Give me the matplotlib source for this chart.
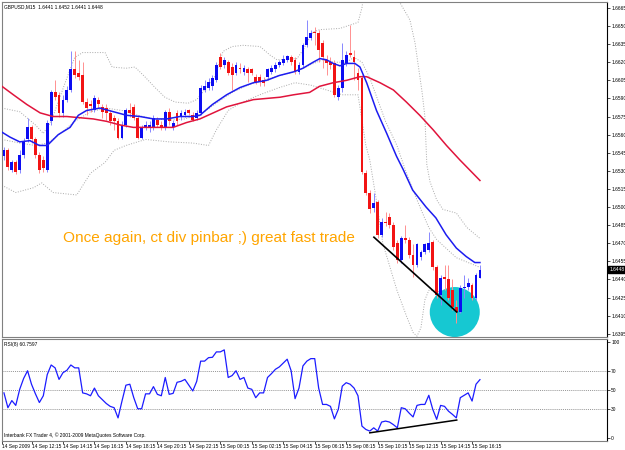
import numpy as np
import matplotlib.pyplot as plt
from matplotlib.transforms import blended_transform_factory

plt.rcParams['font.family'] = ['Liberation Sans', 'DejaVu Sans']

# GBPUSD M15 candles, 14 Sep 2009 10:30 .. 15 Sep 2009 16:45
opens = [
    1.6542, 1.6547, 1.6531, 1.6537, 1.6531, 1.6543, 1.6556, 1.6566, 1.6556, 1.6543,
    1.6539, 1.6531, 1.6571, 1.6595, 1.6593, 1.6578, 1.6589, 1.6597, 1.6614, 1.6611,
    1.6609, 1.6587, 1.6585, 1.6580, 1.6589, 1.6583, 1.6582, 1.6578, 1.6574, 1.6571,
    1.6557, 1.6568, 1.6580, 1.6583, 1.6574, 1.6557, 1.6566, 1.6566, 1.6566, 1.6572,
    1.6568, 1.6566, 1.6579, 1.6566, 1.6578, 1.6575, 1.6576, 1.6580, 1.6576, 1.6574,
    1.6578, 1.6597, 1.6599, 1.6600, 1.6605, 1.6624, 1.6618, 1.6620, 1.6616, 1.6611,
    1.6615, 1.6612, 1.6614, 1.6614, 1.6608, 1.6608, 1.6605, 1.6608, 1.6612, 1.6614,
    1.6618, 1.6619, 1.6622, 1.6624, 1.6622, 1.6612, 1.6618, 1.6634, 1.6640, 1.6645,
    1.6644, 1.6636, 1.6622, 1.6620, 1.6619, 1.6591, 1.6599, 1.6619, 1.6628, 1.6624,
    1.6611, 1.6607, 1.6528, 1.6512, 1.6499, 1.6504, 1.6477, 1.6488, 1.6492, 1.6485,
    1.6470, 1.6456, 1.6474, 1.6473, 1.6460, 1.6452, 1.6459, 1.6463, 1.6464, 1.6471,
    1.6450, 1.6427, 1.6442, 1.6440, 1.6431, 1.6417, 1.6413, 1.6433, 1.6434, 1.6435,
    1.6425, 1.6441]
highs = [
    1.6550, 1.6549, 1.6539, 1.6539, 1.6547, 1.6557, 1.6574, 1.6568, 1.6558, 1.6546,
    1.6542, 1.6572, 1.6597, 1.6605, 1.6595, 1.6593, 1.6600, 1.6629, 1.6629, 1.6622,
    1.6620, 1.6590, 1.6589, 1.6593, 1.6591, 1.6585, 1.6585, 1.6580, 1.6576, 1.6574,
    1.6571, 1.6582, 1.6586, 1.6585, 1.6576, 1.6568, 1.6571, 1.6571, 1.6576, 1.6575,
    1.6571, 1.6580, 1.6582, 1.6572, 1.6580, 1.6580, 1.6581, 1.6581, 1.6579, 1.6580,
    1.6601, 1.6605, 1.6607, 1.6609, 1.6620, 1.6628, 1.6624, 1.6622, 1.6619, 1.6620,
    1.6619, 1.6618, 1.6616, 1.6615, 1.6610, 1.6610, 1.6608, 1.6615, 1.6618, 1.6620,
    1.6622, 1.6626, 1.6626, 1.6626, 1.6624, 1.6620, 1.6636, 1.6655, 1.6647, 1.6649,
    1.6647, 1.6638, 1.6626, 1.6624, 1.6622, 1.6601, 1.6636, 1.6629, 1.6651, 1.6630,
    1.6615, 1.6609, 1.6531, 1.6514, 1.6512, 1.6506, 1.6491, 1.6496, 1.6495, 1.6488,
    1.6473, 1.6476, 1.6485, 1.6475, 1.6469, 1.6470, 1.6464, 1.6470, 1.6479, 1.6473,
    1.6452, 1.6444, 1.6452, 1.6452, 1.6440, 1.6423, 1.6435, 1.6444, 1.6441, 1.6437,
    1.6445, 1.6452]
lows = [
    1.6539, 1.6531, 1.6529, 1.6527, 1.6528, 1.6541, 1.6554, 1.6553, 1.6541, 1.6528,
    1.6529, 1.6529, 1.6568, 1.6589, 1.6575, 1.6575, 1.6587, 1.6595, 1.6607, 1.6605,
    1.6585, 1.6576, 1.6579, 1.6579, 1.6582, 1.6574, 1.6572, 1.6568, 1.6564, 1.6556,
    1.6556, 1.6566, 1.6575, 1.6572, 1.6556, 1.6556, 1.6564, 1.6562, 1.6564, 1.6566,
    1.6564, 1.6564, 1.6568, 1.6564, 1.6568, 1.6572, 1.6575, 1.6576, 1.6571, 1.6572,
    1.6576, 1.6595, 1.6597, 1.6597, 1.6604, 1.6614, 1.6615, 1.6609, 1.6597, 1.6609,
    1.6611, 1.6609, 1.6604, 1.6609, 1.6602, 1.6600, 1.6600, 1.6605, 1.6610, 1.6612,
    1.6616, 1.6618, 1.6620, 1.6618, 1.6610, 1.6610, 1.6616, 1.6633, 1.6638, 1.6634,
    1.6620, 1.6615, 1.6609, 1.6614, 1.6591, 1.6589, 1.6595, 1.6617, 1.6624, 1.6605,
    1.6597, 1.6527, 1.6510, 1.6495, 1.6496, 1.6474, 1.6475, 1.6484, 1.6483, 1.6464,
    1.6454, 1.6454, 1.6470, 1.6458, 1.6442, 1.6450, 1.6456, 1.6461, 1.6463, 1.6448,
    1.6425, 1.6419, 1.6431, 1.6423, 1.6415, 1.6404, 1.6412, 1.6425, 1.6431, 1.6423,
    1.6423, 1.6441]
closes = [
    1.6547, 1.6533, 1.6537, 1.6529, 1.6543, 1.6554, 1.6566, 1.6556, 1.6543, 1.6531,
    1.6532, 1.6570, 1.6595, 1.6591, 1.6578, 1.6589, 1.6597, 1.6614, 1.6609, 1.6608,
    1.6587, 1.6582, 1.6584, 1.6590, 1.6585, 1.6579, 1.6578, 1.6571, 1.6571, 1.6557,
    1.6568, 1.6580, 1.6578, 1.6574, 1.6557, 1.6566, 1.6568, 1.6568, 1.6574, 1.6568,
    1.6566, 1.6579, 1.6571, 1.6570, 1.6571, 1.6578, 1.6579, 1.6578, 1.6572, 1.6578,
    1.6599, 1.6600, 1.6604, 1.6607, 1.6618, 1.6616, 1.6622, 1.6611, 1.6609, 1.6618,
    1.6614, 1.6615, 1.6611, 1.6611, 1.6604, 1.6604, 1.6603, 1.6614, 1.6615, 1.6618,
    1.6620, 1.6623, 1.6625, 1.6620, 1.6612, 1.6618, 1.6634, 1.6641, 1.6644, 1.6644,
    1.6630, 1.6624, 1.6619, 1.6618, 1.6593, 1.6599, 1.6622, 1.6626, 1.6626, 1.6620,
    1.6605, 1.6529, 1.6512, 1.6498, 1.6503, 1.6477, 1.6488, 1.6487, 1.6485, 1.6467,
    1.6456, 1.6474, 1.6473, 1.6460, 1.6452, 1.6469, 1.6463, 1.6469, 1.6470, 1.6450,
    1.6427, 1.6441, 1.6440, 1.6425, 1.6417, 1.6413, 1.6433, 1.6434, 1.6437, 1.6425,
    1.6444, 1.6448]

rsi = [
    47, 31.6, 39, 34, 50.7, 62, 70, 56, 46, 37,
    44, 66, 76, 73, 61, 68, 70.5, 76, 73, 73,
    47, 46, 44, 52, 44, 40, 36, 33, 31.6, 21,
    38.5, 55, 56, 42, 30.5, 30.5, 46, 46, 53.5, 45.5,
    44, 63, 45.5, 46.5, 58, 59, 61, 55, 49, 59,
    80, 80, 83.6, 84, 89.6, 89.6, 91.7, 63, 65, 70,
    61, 63, 52, 50.7, 42, 47, 47, 63, 67, 71.5,
    74, 78, 82, 70, 41, 52, 75, 80, 82.6, 82.6,
    52, 35, 35, 33, 20, 30, 54, 57.6, 56, 52,
    44, 12.5, 9, 7.3, 10.7, 7.3, 16.7, 17.7, 16.7, 14,
    10.7, 31.6, 30.5, 26, 22, 34, 35, 35, 44.5, 30,
    19.5, 34, 33, 28, 24.7, 21, 42, 44.5, 47, 38.5,
    56, 60.7597]

# indicator lines (bar position, price)
blue_ma_bars = [-0.5, 1.5, 4, 6.6, 9, 11, 13.8, 16.8, 18.9, 21, 24.4, 27.8, 31.2, 34.6, 38,
                41.4, 44.7, 48, 49.8, 53, 56.6, 60, 63.4, 66.8, 70, 73.6, 76, 78.6, 80.3,
                82, 83.7, 85.4, 87.1, 89.2, 90.5, 92.2, 94.7, 97.3, 99.8, 101.5, 103.9,
                107.3, 109.8, 112.4, 115, 117.5, 119.7, 121]
blue_ma_vals = [1.6562, 1.6558, 1.6554, 1.6555, 1.6551, 1.6551, 1.6560, 1.6566, 1.6576,
                1.6580, 1.6582, 1.6579, 1.6576, 1.6575, 1.6573, 1.6573, 1.6575, 1.6575,
                1.6576, 1.6585, 1.6593, 1.6599, 1.6603, 1.6605, 1.6609, 1.6612, 1.6615,
                1.6620, 1.6623, 1.6622, 1.6619, 1.6617, 1.6619, 1.6619, 1.6616, 1.6603,
                1.6580, 1.6561, 1.6542, 1.6531, 1.6514, 1.6500, 1.6491, 1.6477, 1.6466,
                1.6459, 1.6454, 1.6454]

red_ma_bars = [-0.5, 2.4, 5.8, 9.2, 12.5, 16, 19.3, 22.7, 26.1, 29.5, 32.9, 36.3, 39.7, 43,
               46.4, 49.8, 53.2, 56.6, 60, 63.4, 66.8, 70.2, 73.6, 77.7, 80.2, 83.7, 87.1,
               90.5, 92.2, 95.6, 99, 102.3, 105.7, 109.1, 112.5, 115.9, 121]
red_ma_vals = [1.6600, 1.6593, 1.6585, 1.6578, 1.6575, 1.6575, 1.6574, 1.6573, 1.6571,
               1.6568, 1.6566, 1.6566, 1.6566, 1.6566, 1.6570, 1.6573, 1.6578, 1.6583,
               1.6586, 1.6589, 1.6590, 1.6591, 1.6593, 1.6595, 1.6600, 1.6603, 1.6605,
               1.6608, 1.6608, 1.6603, 1.6597, 1.6587, 1.6576, 1.6564, 1.6551, 1.6539,
               1.6522]

bb_up_bars = [-0.5, 4, 8, 10, 12, 14, 16, 18, 20, 25.7, 27.5, 31, 33.3, 35.8, 38.4, 40.9,
              43.5, 46.8, 49, 51, 53.6, 55.7, 58, 60.8, 65.1, 67.6, 69.4, 74.5, 76, 77,
              78.5, 80.3, 85.4, 90, 91, 92, 99, 100.2, 103.2, 104.5, 106.3, 107, 107.5,
              108.3, 110, 111.6, 115, 117.7, 121]
bb_up_vals = [1.6582, 1.6579, 1.6568, 1.6561, 1.6571, 1.6589, 1.6607, 1.6624, 1.6628,
              1.6628, 1.6616, 1.6615, 1.6616, 1.6608, 1.6599, 1.6591, 1.6587, 1.6586,
              1.6589, 1.6597, 1.6608, 1.6629, 1.6633, 1.6634, 1.6633, 1.6626, 1.6622,
              1.6623, 1.6630, 1.6636, 1.6645, 1.6647, 1.6648, 1.6653, 1.6665, 1.6690,
              1.6690, 1.6672, 1.6655, 1.6636, 1.6595, 1.6575, 1.6535, 1.6521, 1.6506,
              1.6498, 1.6495, 1.6483, 1.6474]

bb_mid_bars = [-0.5, 4, 8, 11, 14, 18, 22, 26, 30, 34, 38, 42, 46, 50, 54, 58, 62, 66, 70,
               74, 78, 81, 84, 87, 89, 91, 93, 95, 97, 99.9, 102, 104, 106, 108, 110, 115,
               121]
bb_mid_vals = [1.6556, 1.6553, 1.6551, 1.6553, 1.6560, 1.6571, 1.6579, 1.6582, 1.6580,
               1.6576, 1.6573, 1.6572, 1.6573, 1.6577, 1.6586, 1.6595, 1.6601, 1.6605,
               1.6609, 1.6612, 1.6618, 1.6622, 1.6620, 1.6620, 1.6624, 1.6620, 1.6607,
               1.6589, 1.6571, 1.6551, 1.6531, 1.6514, 1.6498, 1.6483, 1.6473, 1.6458,
               1.6450]

bb_lo_bars = [-0.5, 3, 7.5, 9.6, 12.5, 18.5, 22, 25.7, 28, 31, 36, 42, 48, 52, 54, 57, 60,
              65, 70, 74, 78, 82, 86, 90, 91, 92, 93, 94.8, 96.3, 99.9, 102.4, 104, 105,
              106, 107, 108, 110, 114, 118, 121]
bb_lo_vals = [1.6518, 1.6512, 1.6516, 1.6520, 1.6512, 1.6510, 1.6528, 1.6537, 1.6547,
              1.6551, 1.6556, 1.6554, 1.6553, 1.6551, 1.6564, 1.6580, 1.6586, 1.6593,
              1.6599, 1.6603, 1.6601, 1.6597, 1.6593, 1.6593, 1.6572, 1.6551, 1.6539,
              1.6503, 1.6470, 1.6431, 1.6409, 1.6396, 1.6393, 1.6400, 1.6423, 1.6431,
              1.6431, 1.6423, 1.6415, 1.6411]

# hand drawn divergence lines
price_line_bars = [94.05, 115.1]
price_line_vals = [1.6475, 1.6413]
rsi_line_bars = [93.0, 115.1]
rsi_line_vals = [5.5, 18.75]

tick_bars = [7 + 8 * k for k in range(15)]
tick_labels = ['14 Sep 12:15', '14 Sep 14:15', '14 Sep 16:15', '14 Sep 18:15',
               '14 Sep 20:15', '14 Sep 22:15', '15 Sep 00:15', '15 Sep 02:15',
               '15 Sep 04:15', '15 Sep 06:15', '15 Sep 08:15', '15 Sep 10:15',
               '15 Sep 12:15', '15 Sep 14:15', '15 Sep 16:15']
price_ticks = [round(1.6395 + 0.0015 * k, 4) for k in range(19)]
rsi_ticks = [0, 30, 50, 70, 100]

o = np.array(opens)
h = np.array(highs)
l = np.array(lows)
c = np.array(closes)
bars = np.arange(len(c))
up = c >= o

W, H = 625, 450
fig = plt.figure(figsize=(6.25, 4.5), dpi=100)
fig.patch.set_facecolor('white')
ax = fig.add_axes([2 / W, 1 - 337 / H, 605 / W, 335 / H])
ax2 = fig.add_axes([2 / W, 1 - 441 / H, 605 / W, 102 / H])

sm = 3.5  # small MT4 style text

# bollinger bands
dot = (0, (1, 1.6))
for bx, by in [(bb_up_bars, bb_up_vals), (bb_mid_bars, bb_mid_vals), (bb_lo_bars, bb_lo_vals)]:
    ax.plot(bx, by, color='#a9a9a9', lw=0.7, ls=dot, zorder=2)

# highlight circle
ax.scatter([114.6], [1.6413], s=36 ** 2, color='#16c8d2', edgecolors='none', zorder=2.5)

# candles
ax.vlines(bars[up], l[up], h[up], color='#8888ff', lw=0.7, zorder=3)
ax.vlines(bars[~up], l[~up], h[~up], color='#ff9090', lw=0.7, zorder=3)
body = np.maximum(np.abs(c - o), 0.00005)
ax.bar(bars, body, bottom=np.minimum(o, c), width=0.72,
       color=np.where(up, '#0c0cf2', '#f21414'), linewidth=0, zorder=4)

ax.plot(red_ma_bars, red_ma_vals, color='#e0143c', lw=1.1, zorder=5)
ax.plot(blue_ma_bars, blue_ma_vals, color='#1c1cf0', lw=1.1, zorder=5)
ax.plot(price_line_bars, price_line_vals, color='black', lw=1.2, zorder=6)

ax.text(15.0, 1.6474, 'Once again, ct div pinbar ;) great fast trade', color='#ffa500',
        fontsize=11.1, va='center', ha='left', zorder=7)
ax.text(0.004, 0.994, 'GBPUSD,M15  1.6441 1.6452 1.6441 1.6448', transform=ax.transAxes,
        fontsize=sm, va='top', ha='left')

ax.set_xlim(-0.5, 153.3)
ax.set_ylim(1.63923, 1.66699)
ax.set_xticks([])
ax.yaxis.tick_right()
ax.set_yticks(price_ticks, labels=[f'{v:.4f}' for v in price_ticks])
ax.tick_params(axis='y', labelsize=sm, length=2, width=0.5, pad=1)

tr = blended_transform_factory(ax.transAxes, ax.transData)
ax.text(1.004, closes[-1], f'{closes[-1]:.4f}', transform=tr, fontsize=sm, color='white',
        va='center', ha='left',
        bbox=dict(facecolor='black', edgecolor='black', pad=0.8))

# RSI panel
for lvl in [30, 50, 70]:
    ax2.axhline(lvl, color='#707070', lw=0.5, ls=(0, (1.5, 1.5)), zorder=1)
ax2.plot(bars, rsi, color='#1c1cff', lw=0.9, zorder=3)
ax2.plot(rsi_line_bars, rsi_line_vals, color='black', lw=1.1, zorder=4)
ax2.text(0.004, 0.975, f'RSI(8) {rsi[-1]:.4f}', transform=ax2.transAxes,
         fontsize=sm, va='top', ha='left')
ax2.text(0.004, 0.03, 'Interbank FX Trader 4, \u00a9 2001-2009 MetaQuotes Software Corp.',
         transform=ax2.transAxes, fontsize=sm, va='bottom', ha='left')
ax2.set_xlim(-0.5, 153.3)
ax2.set_ylim(-3, 103)
ax2.yaxis.tick_right()
ax2.set_yticks(rsi_ticks, labels=[str(v) for v in rsi_ticks])
ax2.set_xticks([-0.5] + tick_bars, labels=['14 Sep 2009'] + tick_labels)
for lab in ax2.get_xticklabels():
    lab.set_horizontalalignment('left')
ax2.tick_params(axis='y', labelsize=sm, length=2, width=0.5, pad=1)
ax2.tick_params(axis='x', labelsize=sm, length=2, width=0.5, pad=0.3)

for a in (ax, ax2):
    for side in ('left', 'top', 'bottom'):
        a.spines[side].set_color('#808080')
        a.spines[side].set_linewidth(0.8)
    a.spines['right'].set_color('black')
    a.spines['right'].set_linewidth(0.8)

fig.savefig('out.png', dpi=100)
